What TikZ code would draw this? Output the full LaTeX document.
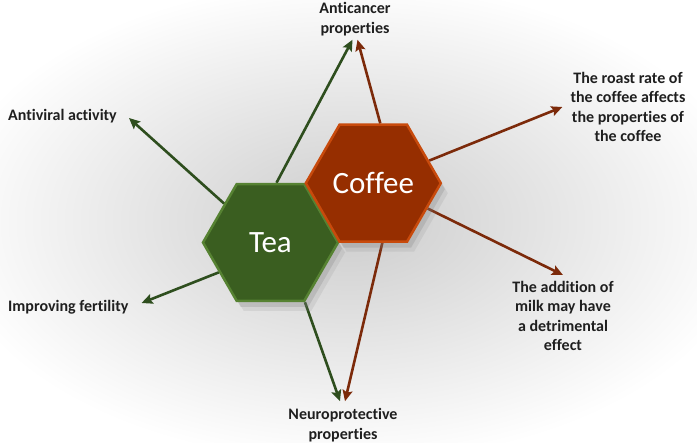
\documentclass[tikz,border=0pt]{standalone}
\usepackage{fontspec}
\setmainfont{Carlito}[Ligatures=NoCommon]
\usepackage{xcolor}
\usepackage{tikz}
\usetikzlibrary{arrows.meta,shapes.geometric,shadows,backgrounds,positioning,calc}

\definecolor{teagreen}{RGB}{58,94,32}
\definecolor{teaedge}{RGB}{86,130,50}
\definecolor{coffeebrown}{RGB}{150,46,0}
\definecolor{coffeeedge}{RGB}{200,74,12}
\definecolor{teaarrow}{RGB}{46,78,30}
\definecolor{coffeearrow}{RGB}{124,42,10}

\begin{document}
\begin{tikzpicture}[x=1pt,y=-1pt,
		hexa/.style={regular polygon, regular polygon sides=6, minimum size=135pt, inner sep=0pt, line width=2.5pt, text=white, font=\fontsize{31}{36}\selectfont,
			drop shadow={shadow xshift=7pt, shadow yshift=-10pt, opacity=0.15},
			drop shadow={shadow xshift=4pt, shadow yshift=-6pt, opacity=0.25}},
		lbl/.style={font=\bfseries\fontsize{16}{19.4}\selectfont, text=black!88, align=center, inner sep=2pt},
		teaarr/.style={draw=teaarrow, line width=2.6pt, -{Stealth[length=11pt,width=10pt,inset=2pt,fill=teaarrow]}},
		coffarr/.style={draw=coffeearrow, line width=2.6pt, -{Stealth[length=11pt,width=10pt,inset=2pt,fill=coffeearrow]}}]
		\useasboundingbox (0,0) rectangle (697,443);

		% labels
		\node[lbl] (cancer) at (355,19) {Anticancer\\properties};
		\node[lbl, anchor=west] (antiviral) at (6,116) {Antiviral activity};
		\node[lbl, anchor=west] (fertility) at (6,307) {Improving fertility};
		\node[lbl] (neuro) at (343,425) {Neuroprotective\\properties};
		\node[lbl] (roast) at (628,107) {The roast rate of\\the coffee affects\\the properties of\\the coffee};
		\node[lbl] (milk) at (563,316) {The addition of\\milk may have\\a detrimental\\effect};

		% hexagons
		\node[hexa, fill=teagreen, draw=teaedge] (tea) at (270.5,242.5) {Tea};
		\node[hexa, fill=coffeebrown, draw=coffeeedge] (coffee) at (373.3,183.2) {Coffee};

		\begin{scope}[on background layer]
			\fill[white] (0,0) rectangle (697,443);
			\shade[inner color=black!20, outer color=white] (-60,-20) rectangle (757,463);

			% tea arrows
			\draw[teaarr] (tea.140) -- ([xshift=10pt,yshift=-2pt]antiviral.east);
			\draw[teaarr] (tea.210) -- ([xshift=11pt,yshift=4pt]fertility.east);
			\draw[teaarr] ([xshift=6pt]tea.north) -- ([xshift=-2.5pt,yshift=-2pt]cancer.south);
			\draw[teaarr] (tea.-60) -- ([xshift=-3pt,yshift=5pt]neuro.north);

			% coffee arrows
			\draw[coffarr] ([xshift=7pt]coffee.north) -- ([xshift=2.5pt,yshift=-2pt]cancer.south);
			\draw[coffarr] (coffee.22) -- ([xshift=-6pt]roast.west);
			\draw[coffarr] (coffee.-25) -- ([yshift=4pt]milk.north);
			\draw[coffarr] ([xshift=9pt]coffee.south) -- ([xshift=2pt,yshift=5pt]neuro.north);
		\end{scope}
	\end{tikzpicture}
\end{document}
